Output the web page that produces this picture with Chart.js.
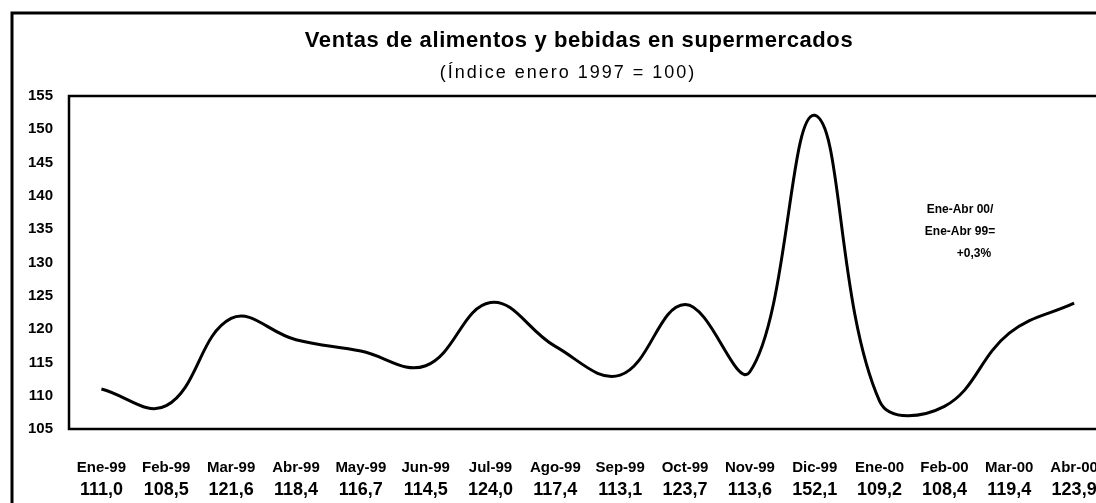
<!DOCTYPE html>
<html>
<head>
<meta charset="utf-8">
<script src="https://cdn.jsdelivr.net/npm/chart.js@4"></script>
<style>
  html, body { margin: 0; padding: 0; background: #fff; overflow: hidden; }
  #chart { display: block; }
</style>
</head>
<body>
<canvas id="chart" width="1128" height="503"></canvas>
<script>
// Chart data
const months = ["Ene-99", "Feb-99", "Mar-99", "Abr-99", "May-99", "Jun-99", "Jul-99", "Ago-99",
  "Sep-99", "Oct-99", "Nov-99", "Dic-99", "Ene-00", "Feb-00", "Mar-00", "Abr-00"];
const ventas = [111.0, 108.5, 121.6, 118.4, 116.7, 114.5, 124.0, 117.4,
  113.1, 123.7, 113.6, 152.1, 109.2, 108.4, 119.4, 123.9];
const yTicks = [105, 110, 115, 120, 125, 130, 135, 140, 145, 150, 155];
const titleText = "Ventas de alimentos y bebidas en supermercados";
const subtitleText = "(Índice enero 1997 = 100)";
const noteLines = ["Ene-Abr 00/", "Ene-Abr 99=", "+0,3%"];

const valueLabels = ventas.map((v) => v.toFixed(1).replace(".", ","));
const FONT = "'Liberation Sans', Arial, Helvetica, sans-serif";

// Frame, plot box, titles and note
const decorations = {
  id: "decorations",
  afterDraw(chart) {
    const ctx = chart.ctx;
    const area = chart.chartArea;
    ctx.save();
    ctx.strokeStyle = "#000";
    ctx.lineWidth = 3;
    ctx.strokeRect(12, 13, 2000, 2000);
    ctx.lineWidth = 2.5;
    ctx.strokeRect(area.left, area.top, area.right - area.left, area.bottom - area.top);

    ctx.fillStyle = "#000";
    ctx.textAlign = "center";
    ctx.textBaseline = "middle";
    ctx.font = "bold 22px " + FONT;
    ctx.letterSpacing = "0.6px";
    ctx.fillText(titleText, 579, 41);
    ctx.font = "18px " + FONT;
    ctx.letterSpacing = "2px";
    ctx.fillText(subtitleText, 568, 73);

    ctx.letterSpacing = "0px";
    ctx.font = "bold 12px " + FONT;
    ctx.fillText(noteLines[0], 960, 210);
    ctx.fillText(noteLines[1], 960, 232);
    ctx.fillText(noteLines[2], 974, 254);
    ctx.restore();
  },
};

const ctx = document.getElementById("chart");

new Chart(ctx, {
  type: "line",
  data: {
    labels: months,
    datasets: [
      {
        label: "Ventas",
        data: ventas,
        borderColor: "#000",
        borderWidth: 3,
        pointRadius: 0,
        tension: 0.4,
        fill: false,
        xAxisID: "x",
        yAxisID: "y",
      },
    ],
  },
  options: {
    responsive: false,
    animation: false,
    layout: { padding: { left: 0, right: 4, top: 96, bottom: 0 } },
    plugins: {
      legend: { display: false },
      tooltip: { enabled: false },
    },
    scales: {
      x: {
        type: "category",
        position: "bottom",
        offset: true,
        grid: { display: false, drawTicks: false },
        border: { display: false },
        ticks: {
          autoSkip: false,
          maxRotation: 0,
          padding: 30,
          color: "#000",
          font: { family: FONT, size: 15, weight: "bold" },
        },
        afterFit: (scale) => { scale.height = 48; },
      },
      x2: {
        type: "category",
        position: "bottom",
        labels: valueLabels,
        offset: true,
        grid: { display: false, drawTicks: false },
        border: { display: false },
        ticks: {
          autoSkip: false,
          maxRotation: 0,
          padding: 2,
          color: "#000",
          font: { family: FONT, size: 18, weight: "bold" },
        },
        afterFit: (scale) => { scale.height = 26; },
      },
      y: {
        min: 105,
        max: 155,
        grid: { display: false, drawTicks: false },
        border: { display: false },
        afterBuildTicks: (scale) => {
          scale.ticks = yTicks.map((v) => ({ value: v }));
        },
        ticks: {
          padding: 16,
          color: "#000",
          font: { family: FONT, size: 15, weight: "bold" },
        },
        afterFit: (scale) => { scale.width = 69; },
      },
    },
  },
  plugins: [decorations],
});
</script>
</body>
</html>
